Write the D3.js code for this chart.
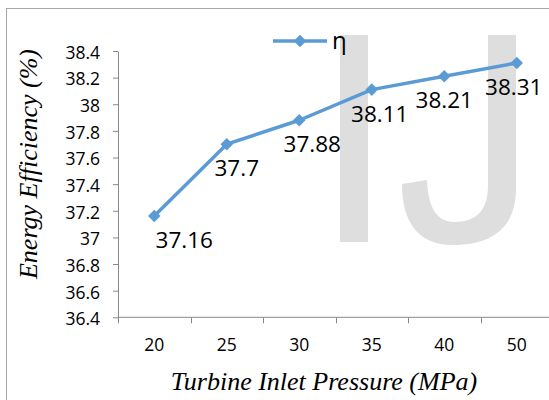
<!DOCTYPE html>
<html>
<head>
<meta charset="utf-8">
<script src="https://cdn.jsdelivr.net/npm/d3@7/dist/d3.min.js"></script>
</head>
<body style="margin:0">
<svg id="chart" width="549" height="400" style="display:block"></svg>
<script>
// Turbine inlet pressure (MPa) and the resulting energy efficiency (%)
const pressures = ["20", "25", "30", "35", "40", "50"];
const efficiency = [37.16, 37.7, 37.88, 38.11, 38.21, 38.31];
const yTicks = [36.4, 36.6, 36.8, 37, 37.2, 37.4, 37.6, 37.8, 38, 38.2, 38.4];
const seriesName = "\u03b7";
const xTitle = "Turbine Inlet Pressure (MPa)";
const yTitle = "Energy Efficiency (%)";

// horizontal nudges for the value labels (px)
const labelShift = [30, 10, 13, 8, 0, -3];

const svg = d3.select("#chart");
const plot = { left: 118, right: 553, top: 51, bottom: 317.3 };
const blue = "#5b9bd5";
const axisColor = "#898989";
const tickFont = "Open Sans";

// outer frame
svg.append("rect")
  .attr("x", 6.5).attr("y", 8.5)
  .attr("width", 600).attr("height", 500)
  .attr("fill", "#fff").attr("stroke", "#a6a6a6").attr("stroke-width", 1);

// axis titles (serif italic)
const titles = svg.append("g")
  .attr("font-family", "Liberation Serif, Times New Roman, Tinos, serif")
  .attr("font-style", "italic")
  .attr("font-size", 26)
  .attr("text-anchor", "middle");
titles.append("text")
  .attr("x", 324).attr("y", 390)
  .text(xTitle);
titles.append("text")
  .attr("transform", "translate(37,164) rotate(-90)")
  .text(yTitle);

// light "IJ" watermark behind the plot
const wm = svg.append("g").attr("fill", "#dedede");
wm.append("rect").attr("x", 340).attr("y", 35).attr("width", 28).attr("height", 207);
wm.append("path").attr("d",
  "M488,35 L516,35 L516,188 " +
  "C516,228 492,245 453,245 " +
  "C418,245 402,222 402,184 " +
  "L427,180 " +
  "C428,208 437,222 455,222 " +
  "C478,222 488,208 488,186 Z");

const x = d3.scaleBand().domain(pressures).range([plot.left, plot.right]);
const y = d3.scaleLinear().domain([36.4, 38.4]).range([plot.bottom, plot.top]);

// y axis
const yAxis = svg.append("g")
  .attr("transform", `translate(${plot.left},0)`)
  .call(d3.axisLeft(y).tickValues(yTicks).tickSize(5).tickSizeOuter(0)
    .tickFormat(d => d3.format("~g")(+d.toFixed(1))));
yAxis.attr("font-family", tickFont).attr("font-size", 17.5);
yAxis.select(".domain").attr("stroke", axisColor);
yAxis.selectAll(".tick line").attr("stroke", axisColor);
yAxis.selectAll(".tick text")
  .attr("x", -18).attr("dy", "0.42em")
  .attr("fill", "#000");

// x axis: ticks sit on the category boundaries
const xAxis = svg.append("g")
  .attr("transform", `translate(0,${plot.bottom})`)
  .attr("font-family", tickFont).attr("font-size", 17.5);
xAxis.append("line")
  .attr("x1", plot.left).attr("x2", plot.right)
  .attr("stroke", axisColor);
const bounds = pressures.map(p => x(p)).concat([plot.right]);
xAxis.selectAll("line.tk").data(bounds).join("line")
  .attr("class", "tk")
  .attr("x1", d => Math.round(d) + 0.5).attr("x2", d => Math.round(d) + 0.5)
  .attr("y1", 0).attr("y2", 6)
  .attr("stroke", axisColor);
xAxis.selectAll("text").data(pressures).join("text")
  .attr("x", d => x(d) + x.bandwidth() / 2)
  .attr("y", 34)
  .attr("text-anchor", "middle")
  .text(d => d);

// series line and diamond markers
const pts = pressures.map((p, i) => ({ p, v: efficiency[i], i }));
const cx = d => x(d.p) + x.bandwidth() / 2;

svg.append("path")
  .datum(pts)
  .attr("fill", "none").attr("stroke", blue)
  .attr("stroke-width", 3.5).attr("stroke-linejoin", "round")
  .attr("d", d3.line().x(cx).y(d => y(d.v)));

const diamond = d3.symbol().type(d3.symbolDiamond2).size(100);
svg.selectAll("path.mk").data(pts).join("path")
  .attr("class", "mk")
  .attr("transform", d => `translate(${cx(d)},${y(d.v)})`)
  .attr("d", diamond)
  .attr("fill", blue);

// value labels under each point
svg.append("g")
  .attr("font-family", tickFont).attr("font-size", 22.5)
  .selectAll("text").data(pts).join("text")
  .attr("x", d => cx(d) + labelShift[d.i])
  .attr("y", d => y(d.v) + 32)
  .attr("text-anchor", "middle")
  .text(d => d.v);

// legend
const lg = svg.append("g").attr("transform", "translate(273,41)");
lg.append("line").attr("x1", 0).attr("x2", 54).attr("stroke", blue).attr("stroke-width", 3.5);
lg.append("path").attr("transform", "translate(27,0)").attr("d", diamond).attr("fill", blue);
lg.append("text")
  .attr("x", 59).attr("y", 8)
  .attr("font-family", tickFont).attr("font-size", 24)
  .text(seriesName);
</script>
</body>
</html>
